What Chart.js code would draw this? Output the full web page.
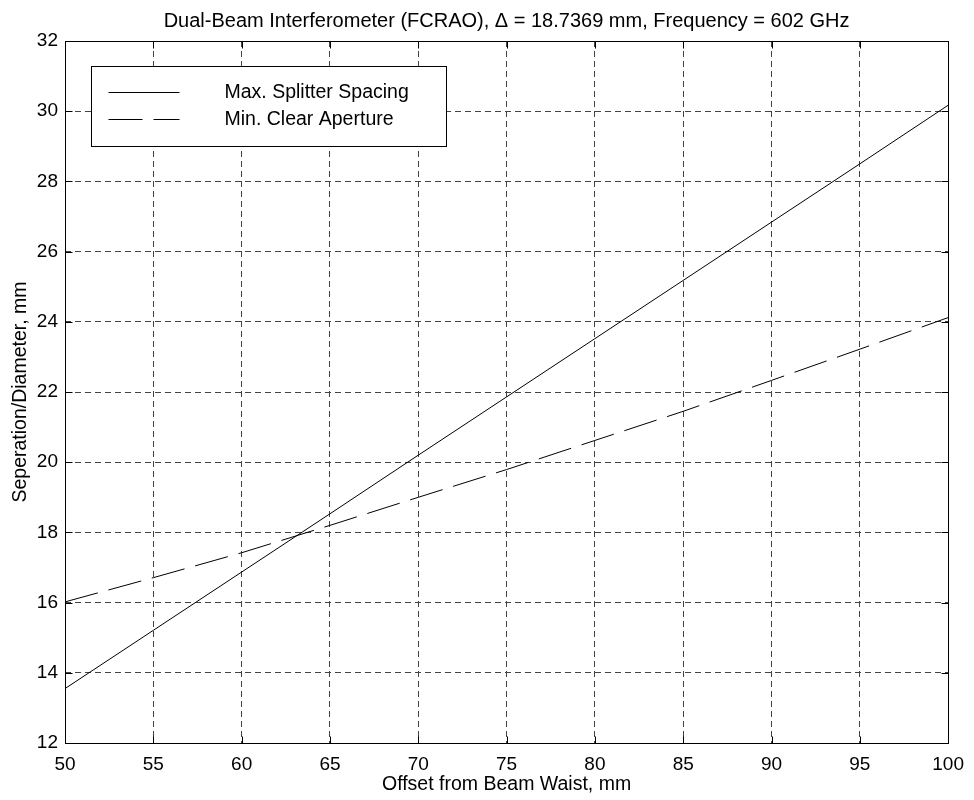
<!DOCTYPE html>
<html>
<head>
<meta charset="utf-8">
<title>Dual-Beam Interferometer</title>
<script src="https://cdn.jsdelivr.net/npm/chart.js@4.4.0/dist/chart.umd.min.js"></script>
<style>
  body { margin: 0; background: #fff; }
  #wrap { width: 974px; height: 800px; }
</style>
</head>
<body>
<div id="wrap"><canvas id="myChart" width="974" height="800"></canvas></div>
<script>
// values
var offsets = [50, 55, 60, 65, 70, 75, 80, 85, 90, 95, 100];
var splitterSpacing = [13.55, 15.21, 16.87, 18.53, 20.2, 21.86, 23.52, 25.18, 26.84, 28.5, 30.17];
var clearAperture = [16.02, 16.71, 17.42, 18.2, 19.0, 19.79, 20.62, 21.45, 22.33, 23.22, 24.12];
var seriesNames = ['Max. Splitter Spacing', 'Min. Clear Aperture'];

var FONT = '"Liberation Sans", Arial, Helvetica, sans-serif';

function toPoints(xs, ys) {
    return xs.map(function (x, i) { return { x: x, y: ys[i] }; });
}

// frame, inward tick marks and the boxed legend (matlab look)
var matlabFrame = {
    id: 'matlabFrame',
    afterDraw: function (chart) {
        var ctx = chart.ctx;
        var a = chart.chartArea;
        var xs = chart.scales.x, ys = chart.scales.y;
        var L = Math.round(a.left) + 0.5, R = Math.round(a.right) + 0.5;
        var T = Math.round(a.top) + 0.5, B = Math.round(a.bottom) + 0.5;
        ctx.save();
        ctx.strokeStyle = '#000';
        ctx.lineWidth = 1;
        ctx.setLineDash([]);
        ctx.strokeRect(L, T, R - L, B - T);

        var tl = 7;
        ctx.beginPath();
        xs.ticks.forEach(function (t) {
            var px = Math.round(xs.getPixelForValue(t.value)) + 0.5;
            ctx.moveTo(px, B); ctx.lineTo(px, B - tl);
            ctx.moveTo(px, T); ctx.lineTo(px, T + tl);
        });
        ys.ticks.forEach(function (t) {
            var py = Math.round(ys.getPixelForValue(t.value)) + 0.5;
            ctx.moveTo(L, py); ctx.lineTo(L + tl, py);
            ctx.moveTo(R, py); ctx.lineTo(R - tl, py);
        });
        ctx.stroke();

        // legend box
        var bx = L + 26, by = T + 25, bw = 355, bh = 80;
        ctx.fillStyle = '#fff';
        ctx.fillRect(bx, by, bw, bh);
        ctx.strokeRect(bx, by, bw, bh);
        var rows = [by + 26, by + 53];
        ctx.font = '19.5px ' + FONT;
        ctx.textBaseline = 'middle';
        ctx.textAlign = 'left';
        chart.data.datasets.forEach(function (ds, i) {
            ctx.beginPath();
            ctx.setLineDash(ds.borderDash || []);
            ctx.moveTo(bx + 17, rows[i]);
            ctx.lineTo(bx + 88, rows[i]);
            ctx.stroke();
            ctx.setLineDash([]);
            ctx.fillStyle = '#000';
            ctx.fillText(ds.label, bx + 133, rows[i]);
        });
        ctx.restore();
    }
};

const config = {
    type: 'line',
    data: {
        datasets: [{
            label: seriesNames[0],
            data: toPoints(offsets, splitterSpacing),
            borderColor: '#000',
            borderWidth: 1,
            pointRadius: 0,
            tension: 0
        }, {
            label: seriesNames[1],
            data: toPoints(offsets, clearAperture),
            borderColor: '#000',
            borderWidth: 1,
            borderDash: [34, 11],
            pointRadius: 0,
            tension: 0
        }]
    },
    options: {
        responsive: false,
        animation: false,
        layout: { padding: { left: 0, right: 25, top: 0, bottom: 0 } },
        plugins: {
            legend: { display: false },
            tooltip: { enabled: false },
            title: {
                display: true,
                fullSize: false, // center over the plot area, not the canvas
                text: 'Dual-Beam Interferometer (FCRAO), \u0394 = 18.7369 mm, Frequency = 602 GHz',
                color: '#000',
                font: { family: FONT, size: 20, weight: 'normal' },
                padding: { top: 9, bottom: 8 }
            }
        },
        scales: {
            x: {
                type: 'linear',
                min: 50,
                max: 100,
                afterFit: function (scale) { scale.height = 57; },
                ticks: {
                    stepSize: 5,
                    color: '#000',
                    padding: 10,
                    maxRotation: 0,
                    font: { family: FONT, size: 19 }
                },
                grid: { color: '#444', lineWidth: 1, drawTicks: false },
                border: { display: false, dash: [6, 4] },
                title: {
                    display: true,
                    text: 'Offset from Beam Waist, mm',
                    color: '#000',
                    font: { family: FONT, size: 19.5 },
                    padding: { top: 4, bottom: 4 }
                }
            },
            y: {
                min: 12,
                max: 32,
                afterFit: function (scale) { scale.width = 65; },
                ticks: {
                    stepSize: 2,
                    color: '#000',
                    padding: 7,
                    font: { family: FONT, size: 19 }
                },
                grid: { color: '#444', lineWidth: 1, drawTicks: false },
                border: { display: false, dash: [6, 4] },
                title: {
                    display: true,
                    text: 'Seperation/Diameter, mm',
                    color: '#000',
                    font: { family: FONT, size: 19.5 },
                    padding: { top: 9, bottom: 9 }
                }
            }
        }
    },
    plugins: [matlabFrame]
};

const myChart = new Chart(document.getElementById('myChart'), config);
</script>
</body>
</html>
